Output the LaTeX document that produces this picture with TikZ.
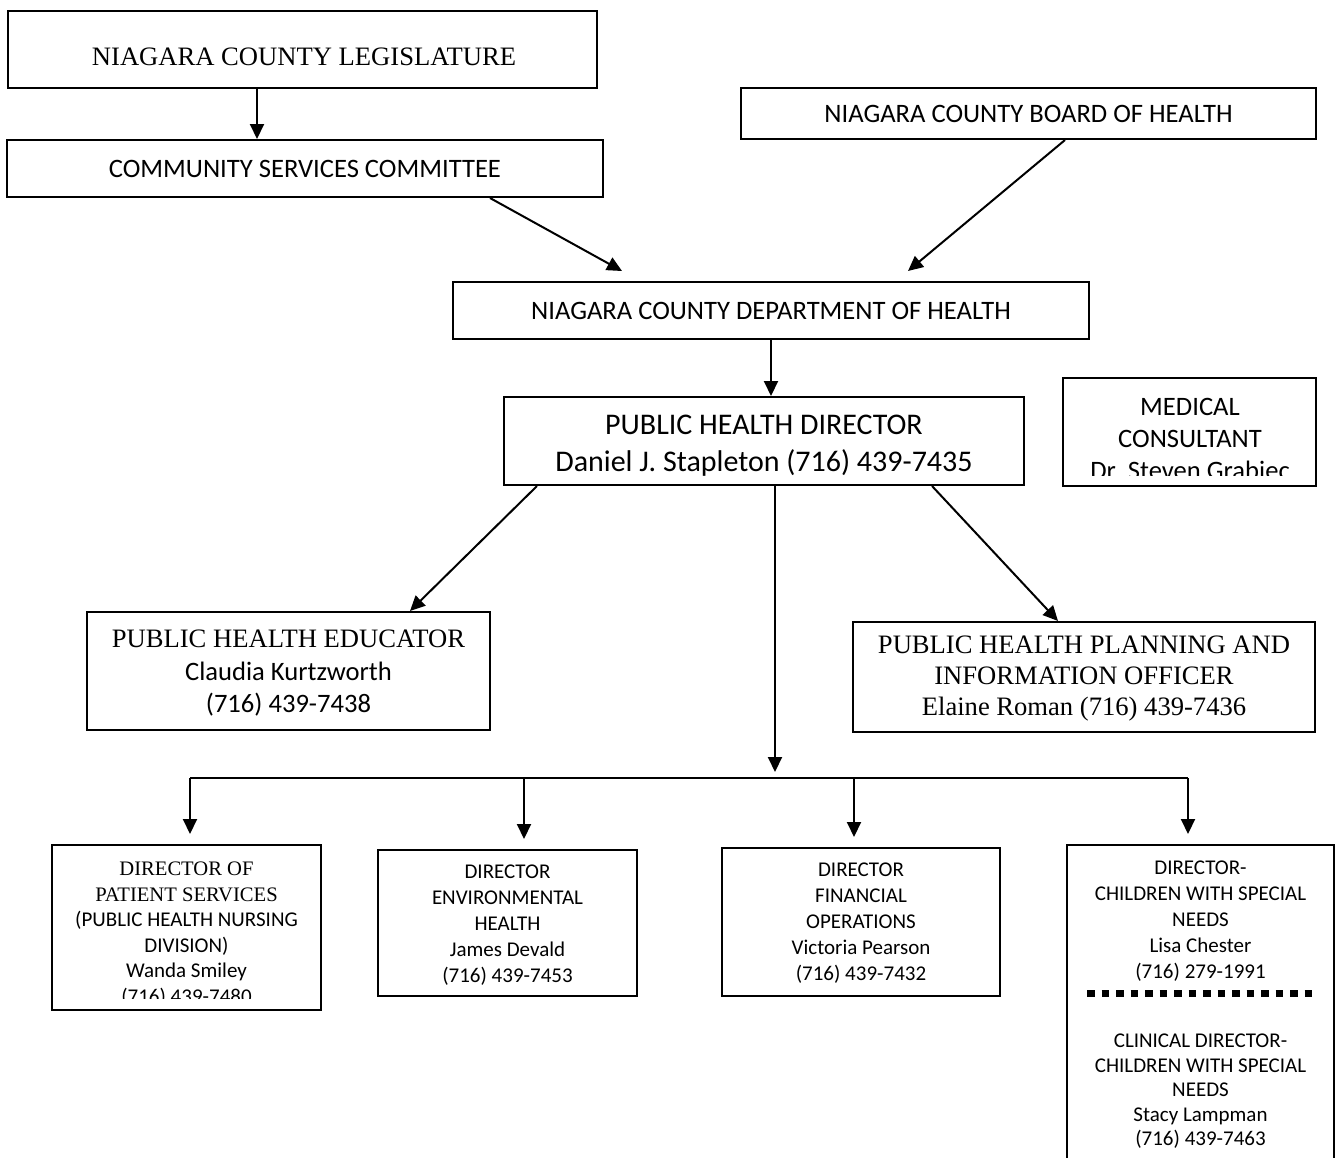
\documentclass[tikz,border=0pt]{standalone}
\usepackage{fontspec}
\setmainfont{Liberation Serif}
\setsansfont{Carlito}
\usetikzlibrary{arrows.meta}

\tikzset{
  box/.style = {draw, line width=2pt, inner sep=0pt},
  arr/.style = {line width=2pt, -{Triangle[length=15pt, width=14pt]}},
  rmbig/.style = {align=center, font=\fontsize{26.6}{32.5}\selectfont},
  sfbig/.style = {align=center, font=\sffamily\fontsize{26.6}{32}\selectfont},
  rmsmall/.style = {align=center, font=\fontsize{20.6}{25.5}\selectfont},
  sfsmall/.style = {align=center, font=\sffamily\fontsize{21}{25.5}\selectfont},
}

\begin{document}
\begin{tikzpicture}[x=1pt, y=-1pt]
    \useasboundingbox (0,0) rectangle (1336,1157);

    % county level
    \node[box, minimum width=589pt, minimum height=77pt] (leg) at (302.5,49.5) {};
    \node[rmbig] (leg-t) at (304,57) {NIAGARA COUNTY LEGISLATURE};
    \node[box, sfbig, minimum width=596pt, minimum height=57pt] (csc) at (305,168.5) {COMMUNITY SERVICES COMMITTEE};
    \node[box, sfbig, minimum width=575pt, minimum height=51pt] (boh) at (1028.5,113.5) {NIAGARA COUNTY BOARD OF HEALTH};
    \node[box, sfbig, minimum width=636pt, minimum height=57pt] (doh) at (771,310.5) {NIAGARA COUNTY DEPARTMENT OF HEALTH};

    \coordinate (leg-out) at ([xshift=-45.5pt]leg.south);
    \draw [arr] (leg-out) -- (leg-out |- csc.north);
    \draw [arr] ([xshift=185pt]csc.south) -- ([xshift=-149pt, yshift=10pt]doh.north);
    \draw [arr] ([xshift=36.5pt]boh.south) -- ([xshift=137pt, yshift=10pt]doh.north);

    % director
    \node[box, minimum width=520pt, minimum height=88pt] (phd) at (764,441) {};
    \node[sfbig, font=\sffamily\fontsize{30}{37}\selectfont] (phd-t) at (764,446)
      {PUBLIC HEALTH DIRECTOR\\Daniel J. Stapleton (716) 439-7435};
    \draw [arr] (doh.south) -- (doh.south |- phd.north);

    \node[box, minimum width=253pt, minimum height=108pt] (mc) at (1189.5,432) {};
    \begin{scope}
      \clip (mc.north west) rectangle ([yshift=12pt]mc.south east);
      \node[sfbig, font=\sffamily\fontsize{26.6}{32}\selectfont] (mc-t) at (1190,439)
        {MEDICAL\\CONSULTANT\\Dr. Steven Grabiec};
    \end{scope}

    % staff
    \node[box, minimum width=403pt, minimum height=118pt] (edu) at (288.5,671) {};
    \node[rmbig] (edu-t) at (288.5,673.5)
      {PUBLIC HEALTH EDUCATOR\\{\sffamily Claudia Kurtzworth}\\{\sffamily (716) 439-7438}};
    \node[box, minimum width=462pt, minimum height=110pt] (plan) at (1084,677) {};
    \node[rmbig, font=\fontsize{26.6}{31}\selectfont] (plan-t) at (1084,679)
      {PUBLIC HEALTH PLANNING AND\\INFORMATION OFFICER\\Elaine Roman (716) 439-7436};
    \draw [arr] ([xshift=-227pt]phd.south) -- ([xshift=121.5pt]edu.north);
    \draw [arr] ([xshift=168pt]phd.south) -- ([xshift=-26pt]plan.north);

    % divisions
    \node[box, minimum width=269pt, minimum height=165pt] (ps) at (186.5,927.5) {};
    \begin{scope}
      \clip (ps.north west) rectangle ([yshift=13pt]ps.south east);
      \node[rmsmall] (ps-t) at (186.5,934)
        {DIRECTOR OF\\PATIENT SERVICES\\{\sffamily\fontsize{21}{25.5}\selectfont (PUBLIC HEALTH NURSING}\\
         {\sffamily\fontsize{21}{25.5}\selectfont DIVISION)}\\{\sffamily\fontsize{21}{25.5}\selectfont Wanda Smiley}\\
         {\sffamily\fontsize{21}{25.5}\selectfont (716) 439-7480}};
    \end{scope}
    \node[box, minimum width=259pt, minimum height=146pt] (env) at (507.5,923) {};
    \node[sfsmall, font=\sffamily\fontsize{21}{26}\selectfont] (env-t) at (507.5,925.5)
      {DIRECTOR\\ENVIRONMENTAL\\HEALTH\\James Devald\\(716) 439-7453};
    \node[box, minimum width=278pt, minimum height=148pt] (fin) at (861,922) {};
    \node[sfsmall, font=\sffamily\fontsize{21}{26}\selectfont] (fin-t) at (861,923.5)
      {DIRECTOR\\FINANCIAL\\OPERATIONS\\Victoria Pearson\\(716) 439-7432};
    \node[box, minimum width=267pt, minimum height=320pt] (cw) at (1200.5,1005) {};
    \node[sfsmall, font=\sffamily\fontsize{21}{26}\selectfont] (cw-t) at (1200.5,921)
      {DIRECTOR-\\CHILDREN WITH SPECIAL\\NEEDS\\Lisa Chester\\(716) 279-1991};
    \draw [line width=7pt, dash pattern=on 7.5pt off 7pt] (1087,993) -- (1316,993);
    \node[sfsmall, font=\sffamily\fontsize{21}{24.5}\selectfont] (cw-t2) at (1200.5,1091.5)
      {CLINICAL DIRECTOR-\\CHILDREN WITH SPECIAL\\NEEDS\\Stacy Lampman\\(716) 439-7463};

    % bus to the divisions
    \coordinate (bus-top) at (775,772);
    \draw [arr] (phd.south -| bus-top) -- (bus-top);
    \coordinate (b1) at (190,778);
    \coordinate (b4) at (1188,778);
    \draw [line width=2pt] (b1) -- (b4);
    \foreach \x/\b in {190/ps, 524/env, 854/fin, 1188/cw} {
      \draw [arr, shorten >=10pt] (\x,778) -- (\x,0 |- \b.north);
    }
\end{tikzpicture}
\end{document}
